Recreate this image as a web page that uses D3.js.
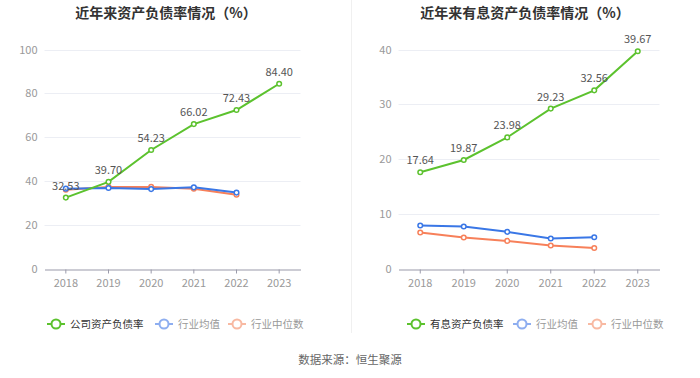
<!DOCTYPE html>
<html><head><meta charset="utf-8">
<script src="https://cdn.jsdelivr.net/npm/d3@7/dist/d3.min.js"></script>
<style>body{margin:0;background:#fff;font-family:"Noto Sans CJK SC","Noto Sans",sans-serif;}</style>
</head><body><svg id="c" width="700" height="378"></svg>
<script>
const years = ["2018","2019","2020","2021","2022","2023"];
const companyDebt = [32.53, 39.70, 54.23, 66.02, 72.43, 84.40];
const industryAvgDebt = [36.6, 36.9, 36.4, 37.2, 34.8];
const industryMedDebt = [36.1, 37.4, 37.4, 36.6, 33.8];
const interestDebt = [17.64, 19.87, 23.98, 29.23, 32.56, 39.67];
const industryAvgInt = [7.92, 7.74, 6.77, 5.55, 5.79];
const industryMedInt = [6.64, 5.73, 5.12, 4.27, 3.84];
const leftTicks = [0, 20, 40, 60, 80, 100];
const rightTicks = [0, 10, 20, 30, 40];

const GREEN = "#5cc22e", BLUE = "#3a77e6", ORANGE = "#f7805a";
const svg = d3.select("#c");
const font = '"Noto Sans CJK SC","Noto Sans",sans-serif';

svg.append("line").attr("x1",351.5).attr("x2",351.5).attr("y1",0).attr("y2",333)
  .attr("stroke","#f0f0f0").attr("stroke-width",1);

svg.append("text").attr("x",350).attr("y",364).attr("text-anchor","middle")
  .attr("font-size","11.5px").attr("fill","#666").attr("font-family",font).text("数据来源：恒生聚源");

function chart(cfg){
  const g = svg.append("g");
  const x = d3.scaleBand().domain(years).range([cfg.x0, cfg.x1]);
  const y = d3.scaleLinear().domain([0, cfg.ymax]).range([269, 49.5]);
  g.append("text").attr("x",cfg.tx).attr("y",18).attr("text-anchor","middle")
    .attr("font-size","14px").attr("font-weight","bold").attr("fill","#333").attr("font-family",font).text(cfg.title);
  // grid
  g.selectAll(".grid").data(cfg.ticks.filter(d=>d>0)).enter().append("line")
    .attr("x1",cfg.x0).attr("x2",cfg.x1).attr("y1",d=>Math.round(y(d))+0.5).attr("y2",d=>Math.round(y(d))+0.5)
    .attr("stroke","#eceef4").attr("stroke-width",1);
  // y labels
  g.selectAll(".yl").data(cfg.ticks).enter().append("text")
    .attr("x",cfg.x0-7).attr("y",d=>y(d)+4).attr("text-anchor","end")
    .attr("font-size","11px").attr("fill","#999").attr("font-family",font).text(d=>d);
  // x axis
  const xa = g.append("g").attr("transform","translate(0,269.5)")
    .call(d3.axisBottom(x).tickSize(4).tickSizeOuter(0));
  xa.select(".domain").attr("stroke","#9a9aaa").attr("stroke-width",1.2);
  xa.selectAll(".tick line").attr("stroke","#9a9aaa");
  xa.selectAll(".tick text").attr("font-size","11px").attr("fill","#999").attr("font-family",font).attr("dy","0.95em");
  const cx = d => x(d) + x.bandwidth()/2;
  const series = [
    {vals: cfg.med, color: ORANGE},
    {vals: cfg.avg, color: BLUE},
    {vals: cfg.main, color: GREEN, labels: true}
  ];
  series.forEach(s=>{
    const pts = s.vals.map((v,i)=>[cx(years[i]), y(v), v]);
    g.append("path").attr("d", d3.line()(pts.map(p=>[p[0],p[1]])))
      .attr("fill","none").attr("stroke",s.color).attr("stroke-width",2);
    g.selectAll(null).data(pts).enter().append("circle")
      .attr("cx",p=>p[0]).attr("cy",p=>p[1]).attr("r",2.3)
      .attr("fill","#fff").attr("stroke",s.color).attr("stroke-width",1.5);
    if (s.labels) {
      g.selectAll(null).data(pts).enter().append("text")
        .attr("x",p=>p[0]).attr("y",p=>p[1]-8).attr("text-anchor","middle")
        .attr("font-size","11px").attr("fill","#555").attr("font-family",font)
        .text(p=>p[2].toFixed(2));
    }
  });
  // legend
  const items = [
    {name: cfg.legend, color: GREEN, text:"#333", x: cfg.lx[0]},
    {name: "行业均值", color: "#8eaef0", text:"#999", x: cfg.lx[1]},
    {name: "行业中位数", color: "#f8b9a2", text:"#999", x: cfg.lx[2]}
  ];
  items.forEach(it=>{
    const lg = g.append("g").attr("transform",`translate(${it.x},324)`);
    lg.append("line").attr("x1",-9).attr("x2",9).attr("stroke",it.color).attr("stroke-width",2);
    lg.append("circle").attr("r",4.5).attr("fill","#fff").attr("stroke",it.color).attr("stroke-width",2);
    lg.append("text").attr("x",14).attr("y",4).attr("font-size","10.5px").attr("fill",it.text)
      .attr("font-family",font).text(it.name);
  });
}

chart({x0:44.5, x1:300.5, ymax:100, ticks:leftTicks, title:"近年来资产负债率情况（%）", tx:166,
  main:companyDebt, avg:industryAvgDebt, med:industryMedDebt, legend:"公司资产负债率", lx:[56,164,237]});
chart({x0:398.5, x1:659.5, ymax:40, ticks:rightTicks, title:"近年来有息资产负债率情况（%）", tx:525,
  main:interestDebt, avg:industryAvgInt, med:industryMedInt, legend:"有息资产负债率", lx:[416,522,597]});
</script></body></html>
